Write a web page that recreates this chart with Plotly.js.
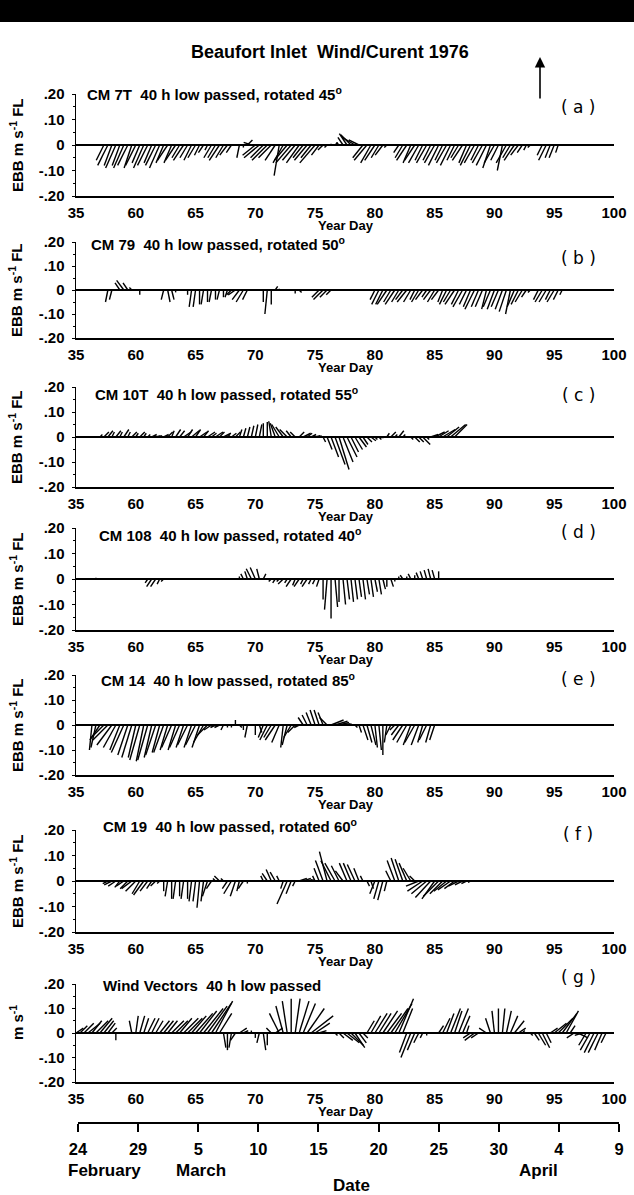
<!DOCTYPE html>
<html><head><meta charset="utf-8">
<script src="https://cdn.plot.ly/plotly-3.0.1.min.js"></script>
<style>html,body{margin:0;padding:0;background:#fff;}#chart{width:634px;height:1195px;}</style>
</head><body><div id="chart"></div>
<script>
const W = 634, H = 1195;
// sampling of the stick series (year day), one stick every 8 h
const dayStart = 55, dayStep = 1/3;
const xTickVals = [55,60,65,70,75,80,85,90,95,100];
const xTickText = ["35","60","65","70","75","80","85","90","95","100"];
const yTickVals = [-0.2,-0.1,0,0.1,0.2];
const yTickText = ["-.20","-.10","0",".10",".20"];
const dateTickText = ["24","29","5","10","15","20","25","30","4","9"];
const monthNames = ["February","March","April"];
const panelTitles = [
  "CM 7T  40 h low passed, rotated 45<sup>o</sup>",
  "CM 79  40 h low passed, rotated 50<sup>o</sup>",
  "CM 10T  40 h low passed, rotated 55<sup>o</sup>",
  "CM 108  40 h low passed, rotated 40<sup>o</sup>",
  "CM 14  40 h low passed, rotated 85<sup>o</sup>",
  "CM 19  40 h low passed, rotated 60<sup>o</sup>",
  "Wind Vectors  40 h low passed"
];
const panelTags = ["( a )","( b )","( c )","( d )","( e )","( f )","( g )"];
const yTitles = ["EBB m s<sup>-1</sup> FL","EBB m s<sup>-1</sup> FL","EBB m s<sup>-1</sup> FL","EBB m s<sup>-1</sup> FL","EBB m s<sup>-1</sup> FL","EBB m s<sup>-1</sup> FL","m s<sup>-1</sup>"];

// stick components, cm/s (u = across, v = along: + flood / - ebb)
const aU = [0,0,0,0,0,0,0,-3,-4,-3,-4,-3,-4,-4,-3,
 -4,-3,-4,-4,-3,-4,-4,-3,-4,-3,-4,-3,-4,-3,-3,
 -3,-2,-2,-1,-3,-3,-4,-3,-3,-2,0,-1,0,2,-3,
 -5,-6,-5,-6,-5,-4,-2,-4,-5,-6,-5,-5,-4,-5,-4,
 -6,-3,-2,-1,0,1,-1,-2,-3,-4,-5,-4,-4,-5,-4,
 -4,-3,-3,-1,0,0,-2,-3,-4,-3,-4,-4,-3,-4,-3,
 -4,-4,-3,-4,-4,-3,-3,-4,-3,-4,-4,-3,-4,-4,-3,
 -4,-3,-2,-4,-3,-4,-3,-2,-1,-1,0,0,-2,-3,-2,
 -2,-1,0,0,0,0,0,0,0,0,0,0,0,0,0,0];
const aV = [0,0,0,0,0,0,0,-6,-8,-8,-9,-8,-9,-8,-9,
 -8,-7,-9,-8,-7,-8,-9,-7,-6,-7,-6,-5,-6,-5,-6,
 -5,-4,-3,-2,-5,-5,-6,-5,-4,-3,0,-5,-1,2,1,
 -4,-5,-5,-6,-5,-6,-12,-7,-6,-7,-6,-7,-5,-6,-5,
 -7,-4,-2,-1,0.5,1,1,3,4.5,4,3,2,-5,-6,-7,
 -6,-5,-4,-1,0,0,-3,-5,-6,-7,-6,-7,-6,-7,-6,
 -7,-8,-6,-7,-8,-6,-5,-6,-7,-8,-7,-6,-7,-8,-9,
 -7,-6,-10,-7,-5,-6,-4,-3,-2,-1,0,0,-4,-6,-5,
 -5,-3,0,0,0,0,0,0,0,0,0,0,0,0,0,0];
const bU = [0,0,0,0,0,0,0,0,-1,-1,0,-2,-3,-2,-1,
 0,0,0,0,0,0,0,-1,1,1,0,0,0,0,-1,
 -1,0,-1,0,-1,0,-1,0,-1,-2,-3,-3,-3,-2,0,
 0,0,0,-1,0,1,0,0,0,0,0,1,0,0,0,
 0,-3,-4,-3,-2,0,0,0,0,0,0,0,0,0,0,
 -2,-3,-3,-4,-3,-4,-3,-3,-4,-3,-2,-3,-3,-2,-3,
 -3,-3,-2,-3,-3,-4,-3,-4,-3,-3,-4,-3,-3,-2,-3,
 -3,-3,-3,-3,-2,-3,-3,-3,-2,-1,0,-2,-3,-3,-2,
 -3,-2,-1,0,0,0,0,0,0,0,0,0,0,0,0,0];
const bV = [0,0,0,0,0,0,0,0,-5,-4,0,3,4,3,1,
 0,-2,0,0,0,0,0,-4,-5,-4,-1,0,0,-2,-7,
 -7,-6,-6,-5,-5,-4,-4,-3,-3,-2,-2,-4,-5,-4,0,
 0,0,-5,-10,-6,1.5,0.5,0,0,0,-1.5,-1,0,0,0,
 0,-3,-4,-3,-2,0,0,0,0,0,0,0,0,0,0,
 -4,-6,-6,-6,-5,-6,-5,-4,-5,-5,-4,-5,-4,-3,-4,
 -5,-4,-5,-6,-5,-6,-6,-7,-6,-7,-8,-7,-7,-8,-7,
 -8,-7,-8,-9,-10,-7,-6,-5,-3,-1,0,-4,-5,-5,-4,
 -5,-4,-2,0,0,0,0,0,0,0,0,0,0,0,0,0];
const cU = [0,0,0,0,0,0,1,2,2,1,2,1,2,1,2,
 1,2,1,1,2,2,1,2,2,1,2,2,3,2,3,
 2,3,2,3,2,3,2,3,1,2,2,1,1,1,1,
 1,1,0,0,-1,-2,-3,-3,-3,-2,-2,2,3,2,2,
 2,1,1,2,3,4,4,4,4,3,3,3,2,2,2,
 1,1,0,1,2,1,2,1,0,1,2,2,3,1,3,
 4,4,5,5,6,5,0,0,0,0,0,0,0,0,0,
 0,0,0,0,0,0,0,0,0,0,0,0,0,0,0,
 0,0,0,0,0,0,0,0,0,0,0,0,0,0,0,0];
const cV = [0,0,0,0,0,0,1,2,2.5,2,2.5,2,3,2,2,
 1.5,2,1.5,1,1,0.5,0.5,1,2,2.5,3,2.5,2,3,2.5,
 3,2,2.5,2,1.5,2,2,1.5,1,1.5,2,3,3.5,4,4.5,
 5,5,5.5,6,6.3,5.5,5,4,3,2.5,2,2,1.5,1.5,1,
 0.5,0.5,-2,-5,-8,-11,-13,-10,-8,-6,-5,-4,-3,-2,-1.5,
 -1,-1,-0.5,1.5,2,1,2.5,1,0,-1,-2,-2,-3,-1,1,
 2,2.5,3,4,5,5,0,0,0,0,0,0,0,0,0,
 0,0,0,0,0,0,0,0,0,0,0,0,0,0,0,
 0,0,0,0,0,0,0,0,0,0,0,0,0,0,0,0];
const dU = [0,0,0,0,0,0,0,0,0,0,0,0,0,0,0,
 0,0,0,-1,-2,-2,-1,-1,0,0,0,0,0,0,0,
 0,0,0,0,0,0,0,0,0,0,0,0,-1,-1,-2,
 -2,-1,1,0,-1,-1,-1,-2,-1,-2,-1,-2,-1,-2,-1,
 -1,-1,0,-1,0,1,0,1,1,1,1,1,1,1,1,
 1,1,1,0,1,0,0,-1,0,-1,0,-1,-1,-1,-1,
 -1,0,0,0,0,0,0,0,0,0,0,0,0,0,0,
 0,0,0,0,0,0,0,0,0,0,0,0,0,0,0,
 0,0,0,0,0,0,0,0,0,0,0,0,0,0,0,0];
const dV = [0,0,0,0,0,0.5,0,0,0,0,0,0,0,0,0,
 0,0,0,-1.5,-3,-3,-2,-1,0,0,0,0,0,0,0,
 0,0,0,0,0,0,0,0,0,0,0,1,2,3,4,
 4.5,4,2,0,-1,-1.5,-1,-2,-1.5,-3,-2.5,-3,-2,-3,-2,
 -2,-3,-8,-12,-15.5,-11,-9,-10,-8,-9,-8,-7,-8,-6,-7,
 -5,-6,-4,-3,-3,-1,1,1.5,1,2,1.5,2.5,3,3.5,4,
 3.5,3,0,0,0,0,0,0,0,0,0,0,0,0,0,
 0,0,0,0,0,0,0,0,0,0,0,0,0,0,0,
 0,0,0,0,0,0,0,0,0,0,0,0,0,0,0,0];
const eU = [0,0,0,0,-1,-2,-4,-5,-6,-6,-5,-4,-5,-4,-4,
 -3,-4,-3,-4,-3,-4,-3,-4,-3,-4,-3,-4,-3,-4,-3,
 -4,-3,-4,-4,-3,-2,-2,-1,0,0,0,1,0,-1,0,
 0,1,-2,-3,-3,-4,-3,-1,-2,-3,-3,-2,-2,-2,-2,
 -2,-2,-2,-3,5,5,4,3,2,0,1,1,2,2,2,
 1,1,0,-1,-2,-2,-3,-4,-4,-3,-4,-3,-2,-3,-2,
 -2,0,0,0,0,0,0,0,0,0,0,0,0,0,0,
 0,0,0,0,0,0,0,0,0,0,0,0,0,0,0,
 0,0,0,0,0,0,0,0,0,0,0,0,0,0,0,0];
const eV = [0,0,0,0,-10,-9,-6,-5,-6,-8,-9,-10,-11,-12,-13,
 -13,-14,-14.5,-14,-13,-12,-11,-11,-10,-9,-10,-9,-9,-8,-9,
 -8,-9,-7,-4,-2,-1,-1,-2,-1,-1,2,-1,-2,-5,0,
 -4,-3,-5,-6,-5,-6,-7,-9,-8,-5,-3,-1,3,4,5,
 6,6,5,3,2,1.5,1,0.5,0.3,0,-1,-3,-6,-7,-8,
 -9,-10,-12,-7,-4,-2,-4,-6,-7,-8,-7,-8,-7,-6,-7,
 -6,0,0,0,0,0,0,0,0,0,0,0,0,0,0,
 0,0,0,0,0,0,0,0,0,0,0,0,0,0,0,
 0,0,0,0,0,0,0,0,0,0,0,0,0,0,0,0];
const fU = [0,0,0,0,0,0,0,0,-2,-3,-3,-2,-3,-3,-4,
 -4,-3,-4,-3,-2,-2,-1,0,-1,0,-1,0,-1,0,-1,
 -1,-1,-1,-2,-2,-1,-2,-1,-2,-3,-2,-1,-2,0,0,
 0,0,-1,-2,-2,-2,-1,-1,-4,-2,-1,3,3,2,1,
 -1,-2,-3,-3,-4,-4,-3,-3,-3,-3,-3,-2,-1,1,1,
 -2,-2,-2,-1,-2,-3,-3,-3,-3,-3,-2,-5,-6,-6,-6,
 -5,-6,-5,-5,-5,-4,-4,-3,-2,-1,0,0,0,0,0,
 0,0,0,0,0,0,0,0,0,0,0,0,0,0,0,
 0,0,0,0,0,0,0,0,0,0,0,0,0,0,0,0];
const fV = [0,0,0,0,0,0,0,0,-1,-1.5,-2,-2.5,-2,-3,-3,
 -4,-5,-5.5,-4,-3,-2,-1,-4,-6,-7,-7,-6,-7,-7,-8,
 -8,-10.5,-8,-6,-3,1,2,1,-3,-5,-6,-4,-3,-1,0,
 0,0,2,3,4.5,3.5,2,-3,-9,-5,-2,1,1,0.5,0.5,
 2,5,8,11.5,8,7,6,4,7,7,6.5,5,2,-2,-3,
 -5,-7,-7.5,-4,4,8,9,8.5,7,5,2,-2,-4,-5,-6.5,
 -7,-6,-5,-4,-3.5,-3,-2,-1.5,-1,-0.5,0,0,0,0,0,
 0,0,0,0,0,0,0,0,0,0,0,0,0,0,0,
 0,0,0,0,0,0,0,0,0,0,0,0,0,0,0,0];
const gU = [3,3,4,5,4,5,5,4,3,2,0,0,0,0,-1,
 1,2,2,3,3,3,4,4,4,5,5,5,6,6,6,
 7,7,8,8,8,7,5,1,0,-1,-2,3,2,0,0,
 0,-1,1,0,-2,3,-4,-3,-2,0,2,4,5,7,9,
 6,3,0,0,0,1,2,4,5,5,4,3,2,3,4,
 5,5,6,6,7,7,6,4,-3,-4,-3,-2,-1,0,0,
 0,2,3,3,4,3,4,3,1,-3,-4,-3,0,-3,-2,
 -1,0,1,2,3,4,3,1,0,1,2,3,3,2,3,
 5,6,6,5,2,-3,4,-3,-3,-4,-4,-4,-3,-2,0,0];
const gV = [2,3,4,4,5,5,6,5,4,2,-3,0,0,0,5,
 7,7,6,6,6,5,5,5,5,5,5,6,6,6,7,
 8,9,10,11,12,13,8,-6,-7,-6,-3,2,1,0,1,
 -2,-4,-7,-5,2,2,8,11,13,14,14,13,12,10,7,
 4,1,0,0,0,-1,-2,-3,-4,-5,-6,-4,-2,5,7,
 8,8,9,8,10,12,14,10,-8,-10,-7,-4,-2,-1,0,
 0,3,6,8,10,9,10,7,3,-2,-3,-2,0,2,6,
 9,10,10,9,7,5,2,1,0,-1,-3,-5,-6,-4,2,
 4,6,8,9,3,-2,-2,-1,-5,-7,-8,-8,-7,-4,0,0];

const seriesU = [aU,bU,cU,dU,eU,fU,gU];
const seriesV = [aV,bV,cV,dV,eV,fV,gV];

// ---------- layout geometry (pixels) ----------
const plotX0 = 76, plotX1 = 614;
const panelTop = [94, 242, 387, 528, 675, 830, 984];
const panelBot = [196, 338, 487, 630, 775, 932, 1082];
const titleX = [85, 89, 93, 97, 99, 101, 101];
const titleY = [93, 243, 393, 534, 679, 825, 985];
const tagY = [107, 258, 395, 532, 679, 834, 977];
const FONT = "Liberation Sans, Arial, Helvetica, sans-serif";
const px = x => x / W;
const py = y => 1 - y / H;

const traces = [];
const layout = {
  width: W, height: H, margin: {l:0, r:0, t:0, b:0},
  paper_bgcolor: "#fff", plot_bgcolor: "rgba(0,0,0,0)",
  showlegend: false, hovermode: false,
  font: {family: FONT, color: "#000"},
  annotations: [], shapes: []
};

const pxPerDay = (plotX1 - plotX0) / 45;
for (let k = 0; k < 7; k++) {
  const n = k + 1;
  const xa = n === 1 ? "x" : "x" + n, ya = n === 1 ? "y" : "y" + n;
  const pxPerMs = (panelBot[k] - panelTop[k]) / 0.4;
  const scale = pxPerMs / pxPerDay;            // day units per m/s
  const U = seriesU[k], V = seriesV[k];
  const xs = [], ys = [];
  for (let i = 0; i < U.length; i++) {
    const u = U[i] / 100, v = V[i] / 100;
    if (u === 0 && v === 0) continue;
    const t = dayStart + i * dayStep;
    xs.push(t, t + u * scale, null);
    ys.push(0, v, null);
  }
  traces.push({x: xs, y: ys, xaxis: xa, yaxis: ya, type: "scatter", mode: "lines",
    line: {color: "#000", width: 1.4}, hoverinfo: "skip"});

  layout["xaxis" + (n === 1 ? "" : n)] = {
    domain: [px(plotX0), px(plotX1)], range: [55, 100], anchor: ya,
    showline: true, linewidth: 2, linecolor: "#000", showgrid: false, zeroline: false,
    tickmode: "array", tickvals: xTickVals, ticktext: xTickText,
    ticks: "outside", ticklen: 2, tickcolor: "rgba(0,0,0,0)", ticklabelstandoff: 0,
    tickfont: {family: FONT, size: 15, weight: 700, color: "#000"}, fixedrange: true
  };
  layout["yaxis" + (n === 1 ? "" : n)] = {
    domain: [py(panelBot[k]), py(panelTop[k])], range: [-0.2, 0.2], anchor: xa,
    showline: true, linewidth: 1.5, linecolor: "#000", showgrid: false,
    zeroline: true, zerolinecolor: "#000", zerolinewidth: 2,
    tickmode: "array", tickvals: yTickVals, ticktext: yTickText,
    ticks: "outside", ticklen: 3, tickwidth: 1, tickcolor: "#000", ticklabelstandoff: 4,
    minor: {tickmode: "array", tickvals: [-0.15,-0.05,0.05,0.15], ticks: "outside", ticklen: 2, tickcolor: "#000"},
    tickfont: {family: FONT, size: 15, weight: 700, color: "#000"}, fixedrange: true
  };

  const zeroY = (panelTop[k] + panelBot[k]) / 2;
  layout.annotations.push(
    {text: panelTitles[k], xref: "paper", yref: "paper", x: px(titleX[k]), y: py(titleY[k]),
     xanchor: "left", yanchor: "middle", showarrow: false,
     font: {family: FONT, size: 15, weight: 700, color: "#000"}},
    {text: panelTags[k], xref: "paper", yref: "paper", x: px(578), y: py(tagY[k]),
     xanchor: "center", yanchor: "middle", showarrow: false,
     font: {family: "DejaVu Sans, sans-serif", size: 17, color: "#000"}},
    {text: "Year Day", xref: "paper", yref: "paper", x: px(346), y: py(panelBot[k] + 29),
     xanchor: "center", yanchor: "middle", showarrow: false,
     font: {family: FONT, size: 13, weight: 700, color: "#000"}},
    {text: yTitles[k], xref: "paper", yref: "paper", x: px(16), y: py(k === 6 ? zeroY - 10 : zeroY),
     xanchor: "center", yanchor: "middle", textangle: -90, showarrow: false,
     font: {family: FONT, size: 15, weight: 700, color: "#000"}}
  );
}

// date axis
traces.push({x: [55], y: [0], xaxis: "x8", yaxis: "y8", type: "scatter", mode: "markers",
  marker: {opacity: 0}, hoverinfo: "skip"});
layout.xaxis8 = {
  domain: [px(78), px(619)], range: [55, 100], anchor: "y8",
  showline: true, linewidth: 2, linecolor: "#000", showgrid: false, zeroline: false,
  tickmode: "array", tickvals: xTickVals, ticktext: dateTickText,
  ticks: "outside", ticklen: 8, tickwidth: 2, tickcolor: "#000", ticklabelstandoff: 3,
  tickfont: {family: FONT, size: 16.5, weight: 700, color: "#000"}, fixedrange: true
};
layout.yaxis8 = {domain: [py(1122), py(1112)], range: [0, 1], visible: false, fixedrange: true};

layout.annotations.push(
  {text: "Beaufort Inlet  Wind/Curent 1976", xref: "paper", yref: "paper", x: px(330), y: py(52),
   xanchor: "center", yanchor: "middle", showarrow: false,
   font: {family: FONT, size: 18, weight: 700, color: "#000"}},
  {text: monthNames[0], xref: "paper", yref: "paper", x: px(104), y: py(1170), xanchor: "center", yanchor: "middle",
   showarrow: false, font: {family: FONT, size: 17, weight: 700, color: "#000"}},
  {text: monthNames[1], xref: "paper", yref: "paper", x: px(201), y: py(1170), xanchor: "center", yanchor: "middle",
   showarrow: false, font: {family: FONT, size: 17, weight: 700, color: "#000"}},
  {text: monthNames[2], xref: "paper", yref: "paper", x: px(538), y: py(1170), xanchor: "center", yanchor: "middle",
   showarrow: false, font: {family: FONT, size: 17, weight: 700, color: "#000"}},
  {text: "Date", xref: "paper", yref: "paper", x: px(351), y: py(1185), xanchor: "center", yanchor: "middle",
   showarrow: false, font: {family: FONT, size: 17, weight: 700, color: "#000"}},
  {text: "", xref: "paper", yref: "paper", x: px(540), y: py(57), ax: 0, ay: 43,
   showarrow: true, arrowhead: 2, arrowsize: 1.3, arrowwidth: 1.6, arrowcolor: "#000"}
);
layout.shapes.push({type: "rect", xref: "paper", yref: "paper", x0: 0, x1: 1, y0: py(22), y1: 1,
  fillcolor: "#000", line: {width: 0}});

Plotly.newPlot("chart", traces, layout, {staticPlot: true, displayModeBar: false});
</script>
</body></html>
